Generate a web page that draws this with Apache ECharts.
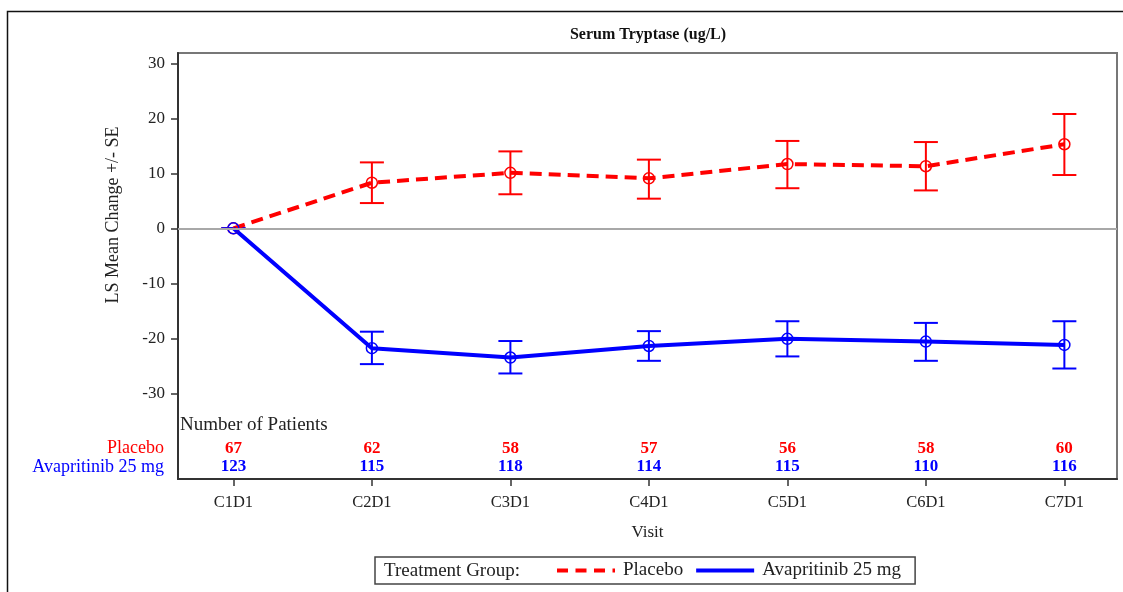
<!DOCTYPE html>
<html>
<head>
<meta charset="utf-8">
<title>Serum Tryptase (ug/L)</title>
<script src="https://cdn.jsdelivr.net/npm/echarts@6/dist/echarts.min.js"></script>
<style>
  html, body { margin: 0; padding: 0; background: #fff; }
  #chart { width: 1123px; height: 592px; }
</style>
</head>
<body>
<div id="chart"></div>
<script>
// Visits on the x axis
const visits = ['C1D1', 'C2D1', 'C3D1', 'C4D1', 'C5D1', 'C6D1', 'C7D1'];

// LS mean change from baseline with lower / upper (mean -/+ SE)
const placeboMean  = [0, 8.3, 10.1, 9.1, 11.7, 11.3, 15.3];
const placeboLower = [0, 4.6, 6.2, 5.4, 7.3, 6.9, 9.7];
const placeboUpper = [0, 12.0, 14.0, 12.5, 15.9, 15.7, 20.8];

const avapMean  = [0, -21.8, -23.5, -21.4, -20.1, -20.6, -21.2];
const avapLower = [0, -24.7, -26.4, -24.1, -23.3, -24.1, -25.5];
const avapUpper = [0, -18.8, -20.5, -18.7, -16.9, -17.2, -16.9];

// Number of patients per visit
const placeboN = [67, 62, 58, 57, 56, 58, 60];
const avapN    = [123, 115, 118, 114, 115, 110, 116];

// Y tick labels
const yTicks = [-30, -20, -10, 0, 10, 20, 30];

const RED = '#ff0000';
const BLUE = '#0000ff';
const FONT = "'Liberation Serif', 'Times New Roman', serif";

// Rows of the patient-count table, placed in axis units below the data
const ROW_HEADER = -35.7;
const ROW_PLACEBO = -40.0;
const ROW_AVAP = -43.4;
const X_MIN = -0.4;
const X_MAX = 6.38;

const xIdx = visits.map((_, i) => i);

function errorBarSeries(name, lower, upper, color) {
  return {
    type: 'custom',
    name: name + ' SE',
    silent: true,
    data: xIdx.map(i => [i, lower[i], upper[i]]),
    encode: { x: 0, y: [1, 2] },
    renderItem: function (params, api) {
      const x = api.value(0);
      const lo = api.coord([x, api.value(1)]);
      const hi = api.coord([x, api.value(2)]);
      const half = 12;
      const st = { stroke: color, lineWidth: 2 };
      return {
        type: 'group',
        children: [
          { type: 'line', shape: { x1: lo[0], y1: lo[1], x2: hi[0], y2: hi[1] }, style: st },
          { type: 'line', shape: { x1: lo[0] - half, y1: lo[1], x2: lo[0] + half, y2: lo[1] }, style: st },
          { type: 'line', shape: { x1: hi[0] - half, y1: hi[1], x2: hi[0] + half, y2: hi[1] }, style: st }
        ]
      };
    }
  };
}

function meanSeries(name, mean, color, dashed) {
  return {
    type: 'line',
    name: name,
    data: xIdx.map(i => [i, mean[i]]),
    symbol: 'circle',
    symbolSize: 11,
    itemStyle: { color: 'rgba(0,0,0,0)', borderColor: color, borderWidth: 1.5 },
    lineStyle: { color: color, width: 4, type: dashed ? [12, 7] : 'solid' },
    emphasis: { disabled: true },
    z: 3
  };
}

function countSeries(counts, rowY, color) {
  return {
    type: 'custom',
    silent: true,
    data: xIdx.map(i => [i, rowY, counts[i]]),
    encode: { x: 0, y: 1 },
    renderItem: function (params, api) {
      const p = api.coord([api.value(0), api.value(1)]);
      return {
        type: 'text',
        x: p[0], y: p[1],
        style: {
          text: String(api.value(2)),
          fill: color,
          font: 'bold 17px ' + FONT,
          align: 'center',
          verticalAlign: 'middle'
        }
      };
    }
  };
}

// Row titles to the left of the plot, plus the table header inside it
const rowLabels = [
  { text: 'Number of Patients', y: ROW_HEADER, color: '#222', side: 'right', size: 19 },
  { text: 'Placebo', y: ROW_PLACEBO, color: RED, side: 'left', size: 18 },
  { text: 'Avapritinib 25 mg', y: ROW_AVAP, color: BLUE, side: 'left', size: 18 }
];

const rowLabelSeries = {
  type: 'custom',
  silent: true,
  data: rowLabels.map((r, i) => [X_MIN, r.y, i]),
  encode: { x: 0, y: 1 },
  renderItem: function (params, api) {
    const r = rowLabels[api.value(2)];
    const p = api.coord([api.value(0), api.value(1)]);
    const left = r.side === 'left';
    return {
      type: 'text',
      x: left ? p[0] - 14 : p[0] + 2,
      y: p[1],
      style: {
        text: r.text,
        fill: r.color,
        font: r.size + 'px ' + FONT,
        align: left ? 'right' : 'left',
        verticalAlign: 'middle'
      }
    };
  }
};

const zeroLine = {
  type: 'line',
  data: [],
  silent: true,
  markLine: {
    silent: true,
    symbol: 'none',
    label: { show: false },
    lineStyle: { color: '#a8a8a8', width: 2, type: 'solid' },
    data: [{ yAxis: 0 }]
  },
  z: 1
};

const chart = echarts.init(document.getElementById('chart'), null, { renderer: 'canvas' });

chart.setOption({
  animation: false,
  backgroundColor: '#fff',
  textStyle: { fontFamily: FONT },
  grid: {
    left: 178, right: 6, top: 53, bottom: 113,
    show: true, borderColor: '#777', borderWidth: 2
  },
  xAxis: {
    type: 'value',
    min: X_MIN, max: X_MAX,
    name: 'Visit',
    nameLocation: 'middle',
    nameGap: 45,
    nameTextStyle: { fontFamily: FONT, fontSize: 17, color: '#222' },
    axisLine: { show: true, onZero: false, lineStyle: { color: '#333', width: 2 } },
    axisTick: { show: true, length: 7, customValues: xIdx, lineStyle: { color: '#333', width: 1.5 } },
    axisLabel: {
      customValues: xIdx,
      margin: 15,
      fontFamily: FONT, fontSize: 16.5, color: '#222',
      formatter: v => visits[Math.round(v)]
    },
    splitLine: { show: false }
  },
  yAxis: {
    type: 'value',
    min: -45.6, max: 31.9,
    axisLine: { show: true, onZero: false, lineStyle: { color: '#333', width: 2 } },
    axisTick: { show: true, length: 7, customValues: yTicks, lineStyle: { color: '#333', width: 1.5 } },
    axisLabel: {
      customValues: yTicks,
      margin: 13,
      fontFamily: FONT, fontSize: 17, color: '#222'
    },
    splitLine: { show: false }
  },
  legend: {
    left: 375, top: 557,
    orient: 'horizontal',
    padding: [4, 14, 4, 182],
    borderColor: '#444', borderWidth: 1.5,
    itemWidth: 64, itemHeight: 4, itemGap: 13,
    selectedMode: false,
    textStyle: { fontFamily: FONT, fontSize: 19, color: '#222' },
    data: [
      {
        name: 'Placebo',
        icon: 'path://M0,0h11v4h-11z M18.5,0h11v4h-11z M37,0h11v4h-11z M55.5,0h2.5v4h-2.5z',
        itemStyle: { color: RED, borderWidth: 0 }
      },
      {
        name: 'Avapritinib 25 mg',
        icon: 'path://M0,0h58v4h-58z',
        itemStyle: { color: BLUE, borderWidth: 0 }
      }
    ]
  },
  graphic: [
    {
      type: 'rect',
      shape: { x: 7.5, y: 11.5, width: 1300, height: 800 },
      style: { fill: 'none', stroke: '#111', lineWidth: 1.5 },
      silent: true
    },
    {
      type: 'text',
      x: 648, y: 35,
      style: {
        text: 'Serum Tryptase (ug/L)',
        font: 'bold 16px ' + FONT,
        fill: '#111',
        align: 'center', verticalAlign: 'middle'
      }
    },
    {
      type: 'text',
      x: 113, y: 215,
      rotation: Math.PI / 2,
      style: {
        text: 'LS Mean Change +/- SE',
        font: '18px ' + FONT,
        fill: '#222',
        align: 'center', verticalAlign: 'middle'
      }
    },
    {
      type: 'text',
      x: 384, y: 571,
      style: {
        text: 'Treatment Group:',
        font: '19px ' + FONT,
        fill: '#222',
        align: 'left', verticalAlign: 'middle'
      }
    }
  ],
  series: [
    zeroLine,
    errorBarSeries('Placebo', placeboLower, placeboUpper, RED),
    meanSeries('Placebo', placeboMean, RED, true),
    errorBarSeries('Avapritinib 25 mg', avapLower, avapUpper, BLUE),
    meanSeries('Avapritinib 25 mg', avapMean, BLUE, false),
    countSeries(placeboN, ROW_PLACEBO, RED),
    countSeries(avapN, ROW_AVAP, BLUE),
    rowLabelSeries
  ]
});
</script>
</body>
</html>
